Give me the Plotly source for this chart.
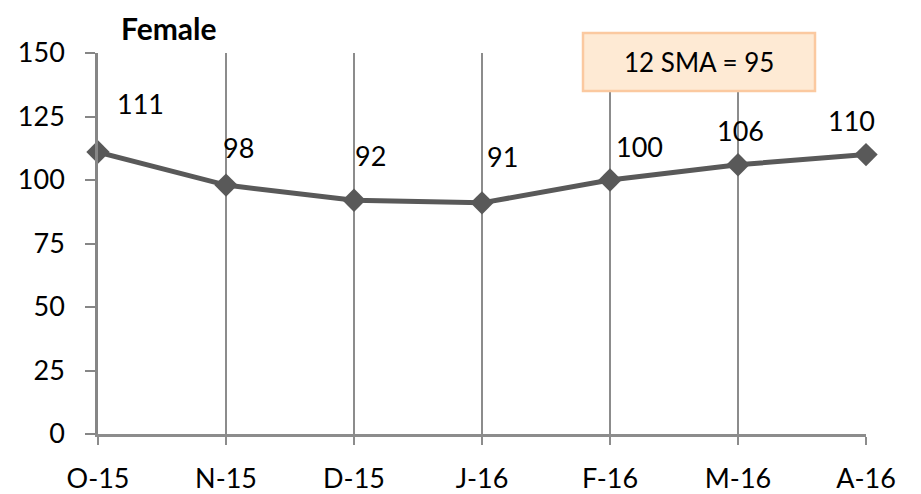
import plotly.graph_objects as go

months = ["O-15", "N-15", "D-15", "J-16", "F-16", "M-16", "A-16"]
values = [111, 98, 92, 91, 100, 106, 110]
y_ticks = [0, 25, 50, 75, 100, 125, 150]
# label offsets (px) to mimic manually positioned data labels
label_dx = [42, 12, 16, 20, 29, 2, -15]
label_dy = [49, 38, 45, 46, 34, 34, 34]
sma_text = "12 SMA = 95"
title_text = "<b>Female</b>"

font_family = "Lato, Carlito, Calibri, sans-serif"
line_color = "#595959"
grid_color = "#8c8c8c"

# page body has an 8px margin; compensate
OFF = 8
W, H = 921 - OFF, 494 - OFF
L, T = 98 - OFF, 53 - OFF
PW, PH = 768, 381

fig = go.Figure()
fig.add_trace(go.Scatter(
    x=months, y=values, mode="lines+markers",
    line=dict(color=line_color, width=5),
    marker=dict(symbol="diamond", size=18, color=line_color),
    hoverinfo="x+y", showlegend=False, cliponaxis=False,
))

for m, v, dx, dy in zip(months, values, label_dx, label_dy):
    fig.add_annotation(x=m, y=v, text=str(v), showarrow=False,
                       xshift=dx, yshift=dy, xanchor="center", yanchor="middle",
                       font=dict(family=font_family, size=27, color="#000000"))

# SMA box
fig.add_shape(type="rect", xref="paper", yref="paper",
              x0=(583 - 98) / PW, x1=(815 - 98) / PW,
              y0=(434 - 91) / PH, y1=(434 - 33) / PH,
              fillcolor="#feead4", line=dict(color="#fbc9a0", width=2.5), layer="above")
fig.add_annotation(xref="paper", yref="paper",
                   x=(699 - 98) / PW, y=(434 - 62) / PH,
                   xanchor="center", yanchor="middle",
                   text=sma_text, showarrow=False,
                   font=dict(family=font_family, size=26, color="#000000"))

# chart title as an annotation
fig.add_annotation(xref="paper", yref="paper",
                   x=(168 - 98) / PW, y=(434 - 28) / PH,
                   xanchor="center", yanchor="middle",
                   text=title_text, showarrow=False,
                   font=dict(family=font_family, size=30, color="#000000"))

fig.update_layout(
    width=W, height=H,
    margin=dict(l=L, r=W - L - PW, t=T, b=H - T - PH, autoexpand=False),
    paper_bgcolor="white", plot_bgcolor="white",
    font=dict(family=font_family, size=27, color="#000000"),
)
fig.update_xaxes(
    type="category", range=[0, len(months) - 1], automargin=False,
    showgrid=True, gridcolor=grid_color, gridwidth=1.5,
    showline=True, linecolor=grid_color, linewidth=2.5,
    ticks="outside", ticklen=8, tickcolor=grid_color, tickwidth=2,
    ticklabelstandoff=11,
    tickfont=dict(family=font_family, size=27), zeroline=False,
)
fig.update_yaxes(
    range=[0, 150], tickvals=y_ticks, automargin=False,
    showgrid=False, zeroline=False,
    showline=True, linecolor="#868686", linewidth=2.5,
    ticks="outside", ticklen=10, tickcolor="#868686", tickwidth=2,
    ticklabelstandoff=15,
    tickfont=dict(family=font_family, size=27),
)

fig.write_html("out.html")
